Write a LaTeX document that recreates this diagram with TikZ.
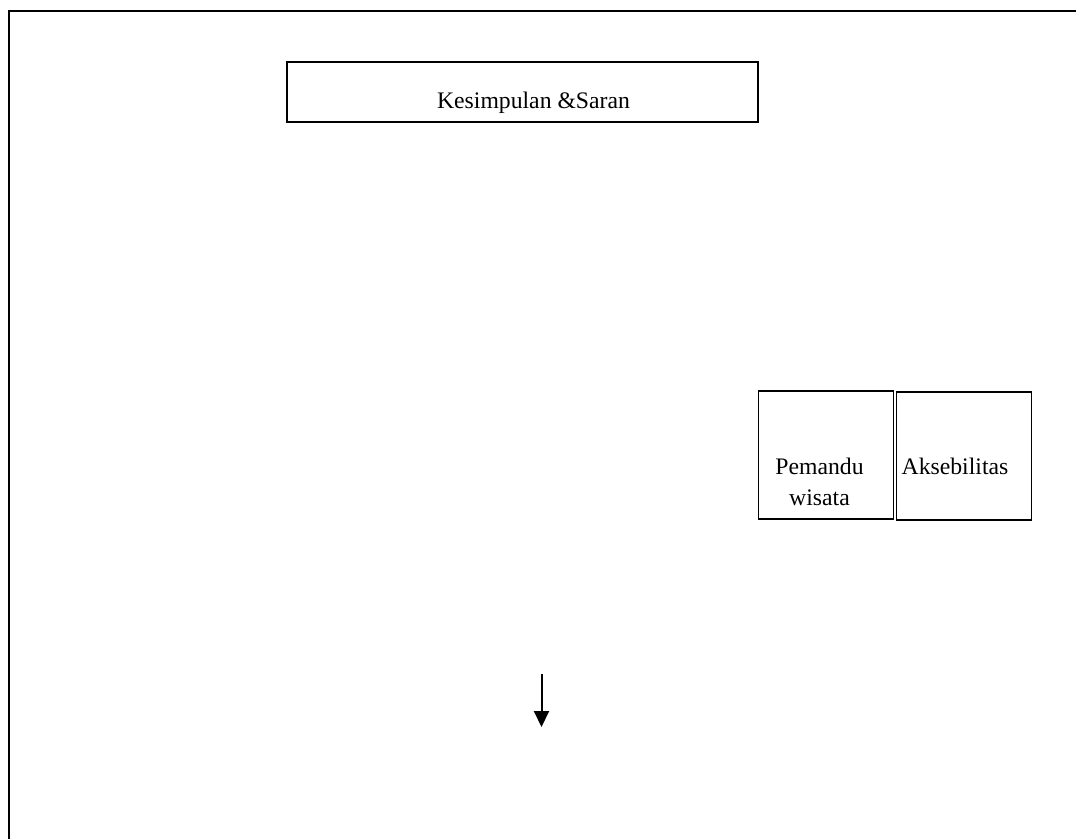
\documentclass[tikz,border=0pt]{standalone}
\usepackage{fontspec}
\setmainfont{Liberation Serif}
\usepackage{tikz}
\usetikzlibrary{positioning,arrows.meta}

\begin{document}
\begin{tikzpicture}[x=1pt,y=-1pt,
  box/.style={rectangle, draw=black, line width=1.5pt, inner sep=0pt},
  label/.style={font=\fontsize{23.7}{31}\selectfont, inner sep=0pt, align=center},
  arrow/.style={-{Triangle[length=16pt,width=15pt]}, line width=2pt}
]
\useasboundingbox (0,0) rectangle (1076,839);
\draw[line width=2pt] (1076,11) -- (9,11) -- (9,839);
\node[box, minimum width=471pt, minimum height=60pt] (kesimpulan) at (522.5,92) {};
\node[label, anchor=base] (kesimpulantext) at (533.5,108) {Kesimpulan \&Saran};
\node[box, minimum width=135pt, minimum height=128pt] (pemandu) at (826,455) {};
\node[box, minimum width=135pt, minimum height=128pt] (aksebilitas) at (964,456) {};
\node[label, anchor=north] (pemandutext) at (819.5,458) {Pemandu\\wisata};
\node[label, anchor=base] (aksebilitastext) at (955,474) {Aksebilitas};
\coordinate (arrowtop) at (541.5,674);
\coordinate (arrowend) at (541.5,727);
\draw[arrow] (arrowtop) -- (arrowend);
\end{tikzpicture}
\end{document}
